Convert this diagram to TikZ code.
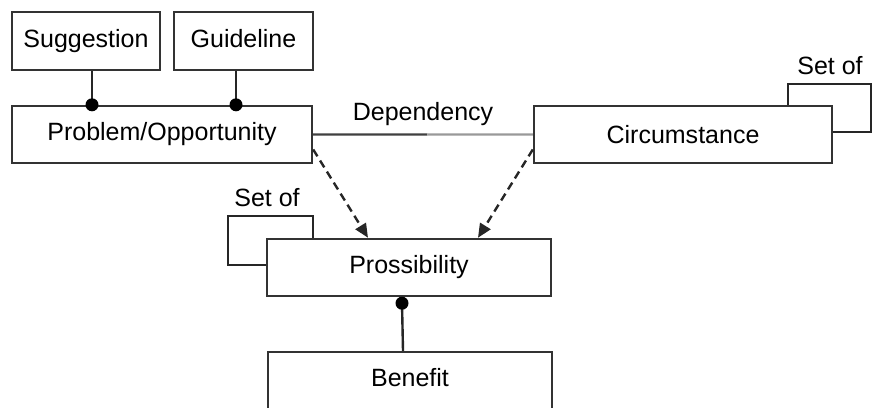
\documentclass[tikz,border=0pt]{standalone}
\usepackage{fontspec}
\setmainfont{Liberation Sans}
\usetikzlibrary{arrows.meta,calc}
\begin{document}
\begin{tikzpicture}[x=1pt,y=-1pt,
  ent/.style={draw=black!80, line width=2.4pt, fill=white, inner sep=0pt, font=\fontsize{25}{29}\selectfont},
  link/.style={draw=black!85, line width=2.4pt},
  dot/.style={circle, fill=black, inner sep=0pt, minimum size=13pt},
  dep/.style={draw=black!85, line width=2.4pt, dashed, dash pattern=on 8pt off 5pt, -{Triangle[length=14pt,width=12pt]}},
  lbl/.style={font=\fontsize{25}{29}\selectfont, inner sep=0pt}
]
\useasboundingbox (0,0) rectangle (872,407);
\begin{scope}
\clip (0,0) rectangle (872,407);
% loops behind boxes
\draw[link] (313,239) -- (313,216) -- (228,216) -- (228,265) -- (267,265);
\draw[link] (788,106) -- (788,84) -- (871,84) -- (871,132) -- (832,132);

\node[ent, minimum width=148, minimum height=58] (sug) at (86,41) {Suggestion};
\node[ent, minimum width=139, minimum height=58] (gui) at (243.5,41) {\raisebox{5pt}{Guideline}};
\node[ent, minimum width=300, minimum height=57] (po) at (162,134.5) {\raisebox{3pt}{Problem/Opportunity}};
\node[ent, minimum width=298, minimum height=57] (ci) at (683,134.5) {Circumstance};
\node[ent, minimum width=284, minimum height=57] (pr) at (409,267.5) {\raisebox{4pt}{Prossibility}};
\node[ent, minimum width=284, minimum height=60] (be) at (410,382) {\raisebox{10pt}{Benefit}};

\node[lbl] (so1) at (267,198) {Set of};
\node[lbl] (so2) at (830,66) {Set of};

\draw[link] ([xshift=6]sug.south) -- ([xshift=6]sug.south |- po.north) node[dot] {};
\draw[link] ([xshift=-7.5]gui.south) -- ([xshift=-7.5]gui.south |- po.north) node[dot] {};
\draw[link] ([xshift=-7]be.north) -- ([xshift=-7,yshift=-6]pr.south) node[dot] {};

\coordinate (mid) at ($(po.east)!0.52!(ci.west)$);
\path (po.east) -- node[lbl, above=9pt] (deplbl) {Dependency} (ci.west);
\draw[line width=2.4pt, draw=black!75] (po.east) -- (mid);
\draw[line width=2.4pt, draw=black!40] (mid) -- (ci.west);

\draw[dep] ([yshift=-15]po.east) -- ([xshift=-41]pr.north);
\draw[dep] ([yshift=-15]ci.west) -- ([xshift=69]pr.north);
\end{scope}
\end{tikzpicture}
\end{document}
